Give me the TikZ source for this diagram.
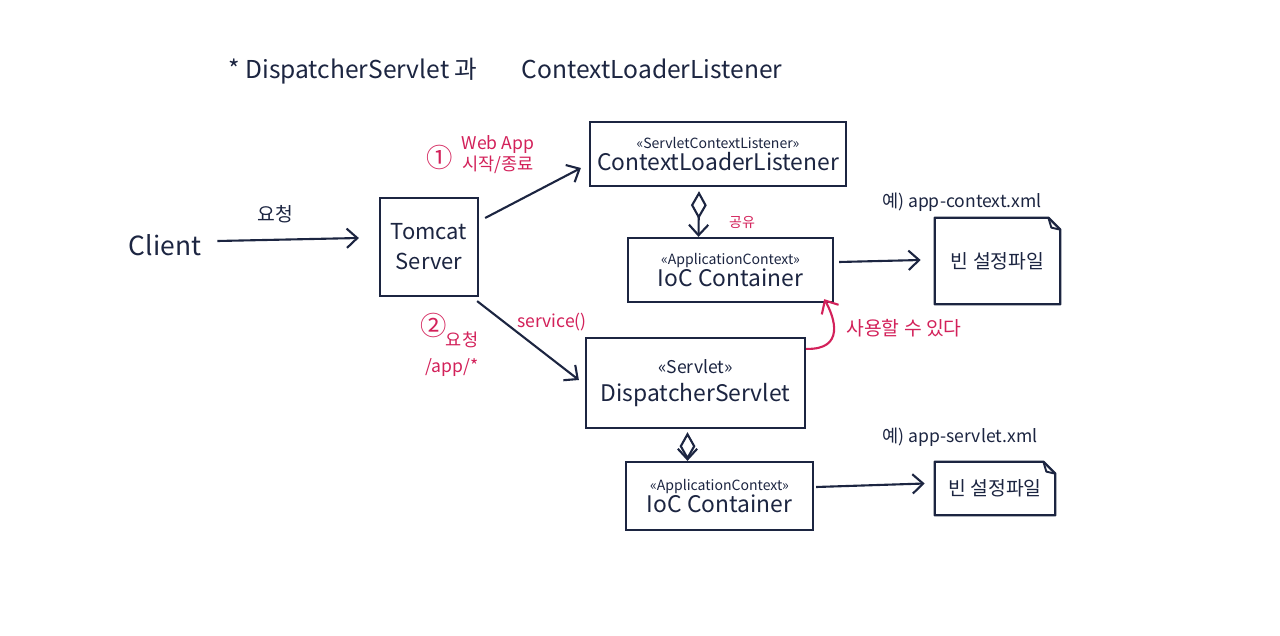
\documentclass[tikz,border=0pt]{standalone}
\usepackage{fontspec}
\setmainfont{Noto Sans CJK KR}
\usetikzlibrary{arrows.meta,calc}
\definecolor{ink}{HTML}{1C2541}
\definecolor{pen}{HTML}{D3215A}
\begin{document}
\begin{tikzpicture}[x=0.02cm,y=-0.02cm,
  every node/.style={text=ink},
  box/.style={draw=ink,line width=1.3pt,align=center,inner sep=0pt},
  arr/.style={draw=ink,line width=1.2pt,-{Straight Barb[length=6pt,width=11pt]}},
  agg/.style={draw=ink,line width=1.2pt,{Diamond[open,length=16pt,width=9pt]}-{Straight Barb[length=6pt,width=11pt]}},
  lbl/.style={inner sep=0pt,font=\fontsize{10}{12}\selectfont},
  rlbl/.style={lbl,text=pen}
]
\useasboundingbox (0,0) rectangle (1280,635);
\fill[white] (0,0) rectangle (1280,635);

% title
\node[inner sep=0pt,anchor=west,font=\fontsize{14}{16}\selectfont] (title) at (228,71) {* DispatcherServlet 과\hspace{1.8em}ContextLoaderListener};

% client
\node[inner sep=0pt,font=\fontsize{15}{17}\selectfont] (client) at (165,245) {Client};

% boxes
\node[box,minimum width=1.96cm,minimum height=1.96cm,font=\fontsize{12.5}{17}\selectfont] (tomcat) at (429,247) {Tomcat\\Server};
\node[box,minimum width=5.12cm,minimum height=1.28cm] (cll) at (718,154)
  {{\fontsize{8}{9}\selectfont «ServletContextListener»}\\[1pt]{\fontsize{13}{15}\selectfont ContextLoaderListener}};
\node[box,minimum width=4.1cm,minimum height=1.28cm] (ioc1) at (730.5,270)
  {{\fontsize{8}{9}\selectfont «ApplicationContext»}\\[1pt]{\fontsize{13}{15}\selectfont IoC Container}};
\node[box,minimum width=4.38cm,minimum height=1.8cm] (ds) at (695.5,383)
  {{\fontsize{10}{12}\selectfont «Servlet»}\\[4pt]{\fontsize{13}{15}\selectfont DispatcherServlet}};
\node[box,minimum width=3.74cm,minimum height=1.36cm] (ioc2) at (719.5,496)
  {{\fontsize{8}{9}\selectfont «ApplicationContext»}\\[1pt]{\fontsize{13}{15}\selectfont IoC Container}};

% bean files (document shape with folded corner)
\node[inner sep=0pt,minimum width=2.5cm,minimum height=1.72cm,font=\fontsize{11}{13}\selectfont] (bean1) at (997.5,261) {빈 설정파일};
\node[inner sep=0pt,minimum width=2.4cm,minimum height=1.06cm,font=\fontsize{11}{13}\selectfont] (bean2) at (995,488.5) {빈 설정파일};
\foreach \b in {bean1,bean2}{
  \draw[ink,line width=1.3pt,line join=round] (\b.north west) -- ($(\b.north east)+(-12,0)$) -- ($(\b.north east)+(0,12)$) -- (\b.south east) -- (\b.south west) -- cycle;
  \draw[ink,line width=1.1pt,line join=round] ($(\b.north east)+(-12,0)$) -- ($(\b.north east)+(-9,10)$) -- ($(\b.north east)+(0,12)$);
}

% connectors
\draw[arr] ($(client.east)+(16,-4)$) -- ($(tomcat.west)+(-20,-9)$);
\draw[arr] ($(tomcat.east)+(6,-29)$) -- ($(cll.west)+(-8,14)$);
\draw[arr] ($(tomcat.south east)+(-2,4)$) -- ($(ds.west)+(-6,-3)$);
\draw[agg] ($(cll.south)+(-19,4)$) -- ($(ioc1.north)+(-32,0)$);
\draw[agg] ($(ds.south)+(-8,3)$) -- ($(ioc2.north)+(-32,0)$);
\draw[arr] ($(ioc1.east)+(5,-8)$) -- ($(bean1.west)+(-14,-1)$);
\draw[arr] ($(ioc2.east)+(2,-9)$) -- ($(bean2.west)+(-10,-5)$);
\draw[pen,line width=1.2pt,-{Straight Barb[length=6pt,width=11pt]}] ($(ds.north east)+(0,12)$) .. controls (845,350) and (835,318) .. ($(ioc1.south east)+(-10,-4)$);

% labels
\node[lbl,font=\fontsize{11}{13}\selectfont] (req) at (275,214) {요청};
\node[rlbl,font=\fontsize{15}{17}\selectfont] (c1) at (440,157) {①};
\node[rlbl,align=center] (webapp) at (498,155) {Web App\\시작/종료};
\node[rlbl,font=\fontsize{8}{9}\selectfont] (share) at (742,222) {공유};
\node[rlbl,font=\fontsize{15}{17}\selectfont] (c2) at (434,325) {②};
\node[rlbl] (req2) at (462,340) {요청};
\node[rlbl] (path) at (452,368) {/app/*};
\node[rlbl] (svc) at (552,322) {service()};
\node[rlbl,font=\fontsize{11}{13}\selectfont] (use) at (904,328) {사용할 수 있다};
\node[lbl] (ex1) at (962,202) {예) app-context.xml};
\node[lbl] (ex2) at (960,437) {예) app-servlet.xml};
\end{tikzpicture}
\end{document}
